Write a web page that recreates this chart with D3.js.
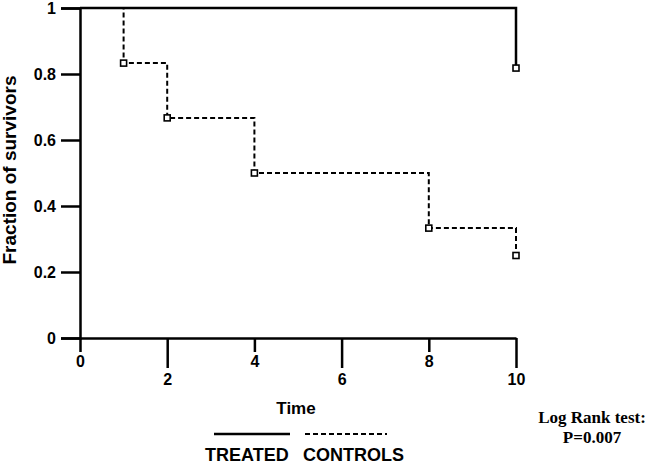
<!DOCTYPE html>
<html>
<head>
<meta charset="utf-8">
<script src="https://cdn.jsdelivr.net/npm/d3@7"></script>
<style>
  html, body { margin: 0; padding: 0; background: #fff; }
  svg { display: block; }
</style>
</head>
<body>
<script>
// ---- data ----
const xTicks = [0, 2, 4, 6, 8, 10];
const yTicks = [0, 0.2, 0.4, 0.6, 0.8, 1];
const treatedTimes = [0, 10];
const treatedSurv = [1, 0.818];
const controlTimes = [0, 1, 2, 4, 8, 10];
const controlSurv = [1, 0.833, 0.667, 0.5, 0.333, 0.25];
const treatedMarks = [10];           // times where markers are drawn
const controlMarks = [1, 2, 4, 8, 10];
const legendLabels = ["TREATED", "CONTROLS"];
const xTitle = "Time";
const yTitle = "Fraction of survivors";
const noteLines = ["Log Rank test:", "P=0.007"];

// ---- layout ----
const W = 649, H = 464;
const x = d3.scaleLinear().domain([0, 10]).range([80, 516]);
const y = d3.scaleLinear().domain([0, 1]).range([338, 8]);

const svg = d3.select("body").append("svg").attr("width", W).attr("height", H);
const sans = "'Liberation Sans', Arial, sans-serif";
const serif = "'Liberation Serif', 'Times New Roman', serif";

// Y axis
const yAxis = svg.append("g").attr("transform", `translate(${x(0)},0)`)
  .call(d3.axisLeft(y).tickValues(yTicks).tickSize(19).tickPadding(5)
    .tickFormat(d => (d === 0 || d === 1) ? String(d) : d.toFixed(1)));
yAxis.select(".domain").attr("stroke", "#000").attr("stroke-width", 2.5);
yAxis.selectAll(".tick line").attr("stroke", "#000").attr("stroke-width", 2.5);
yAxis.selectAll(".tick text").attr("font-family", sans).attr("font-weight", "bold")
  .attr("font-size", 16).attr("fill", "#000");

// X axis
const xAxis = svg.append("g").attr("transform", `translate(0,${y(0)})`)
  .call(d3.axisBottom(x).tickValues(xTicks).tickSizeOuter(0));
xAxis.select(".domain").attr("stroke", "#000").attr("stroke-width", 2.5);
xAxis.selectAll(".tick line").attr("stroke", "#000").attr("stroke-width", 2.5)
  .attr("y2", (d, i) => i % 2 ? 30 : 14);
xAxis.selectAll(".tick text").attr("font-family", sans).attr("font-weight", "bold")
  .attr("font-size", 16).attr("fill", "#000")
  .attr("dy", null)
  .attr("y", (d, i) => i % 2 ? 47 : 29);

// Lines
const line = d3.line().x(d => x(d[0])).y(d => y(d[1])).curve(d3.curveStepAfter);
const ctrlData = controlTimes.map((t, i) => [t, controlSurv[i]]);
const trtData = treatedTimes.map((t, i) => [t, treatedSurv[i]]);

svg.append("path").datum(ctrlData).attr("d", line)
  .attr("fill", "none").attr("stroke", "#000").attr("stroke-width", 2)
  .attr("stroke-dasharray", "5,3");
svg.append("path").datum(trtData).attr("d", line)
  .attr("fill", "none").attr("stroke", "#000").attr("stroke-width", 2.5);

// markers
function surv(times, survs, t) {
  let v = survs[0];
  times.forEach((tt, i) => { if (tt <= t) v = survs[i]; });
  return v;
}
const ms = 6;
svg.selectAll(".cm").data(controlMarks).enter().append("rect")
  .attr("x", d => x(d) - ms / 2).attr("y", d => y(surv(controlTimes, controlSurv, d)) - ms / 2)
  .attr("width", ms).attr("height", ms)
  .attr("fill", "#fff").attr("stroke", "#000").attr("stroke-width", 1.6);
svg.selectAll(".tm").data(treatedMarks).enter().append("rect")
  .attr("x", d => x(d) - ms / 2).attr("y", d => y(surv(treatedTimes, treatedSurv, d)) - ms / 2)
  .attr("width", ms).attr("height", ms)
  .attr("fill", "#fff").attr("stroke", "#000").attr("stroke-width", 1.6);

// axis titles
svg.append("text").attr("x", 296).attr("y", 414).attr("text-anchor", "middle")
  .attr("font-family", sans).attr("font-weight", "bold").attr("font-size", 17).text(xTitle);
svg.append("text").attr("transform", "translate(16,170) rotate(-90)").attr("text-anchor", "middle")
  .attr("font-family", sans).attr("font-weight", "bold").attr("font-size", 19).text(yTitle);

// legend
svg.append("line").attr("x1", 214).attr("x2", 290).attr("y1", 434).attr("y2", 434)
  .attr("stroke", "#000").attr("stroke-width", 2.5);
svg.append("line").attr("x1", 305).attr("x2", 387).attr("y1", 434).attr("y2", 434)
  .attr("stroke", "#000").attr("stroke-width", 2).attr("stroke-dasharray", "5,3");
svg.append("text").attr("x", 205).attr("y", 461)
  .attr("font-family", sans).attr("font-weight", "bold").attr("font-size", 18).text(legendLabels[0]);
svg.append("text").attr("x", 303).attr("y", 461)
  .attr("font-family", sans).attr("font-weight", "bold").attr("font-size", 18).text(legendLabels[1]);

// note
svg.selectAll(".note").data(noteLines).enter().append("text")
  .attr("x", 592).attr("y", (d, i) => 423 + i * 20).attr("text-anchor", "middle")
  .attr("font-family", serif).attr("font-weight", "bold").attr("font-size", 17).text(d => d);
</script>
</body>
</html>
